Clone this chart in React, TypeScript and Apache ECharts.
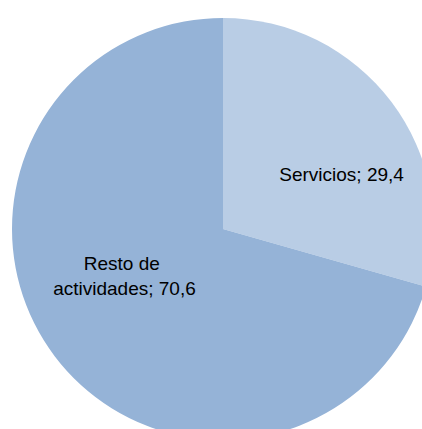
import React, { useEffect, useRef } from "react";
import * as echarts from "echarts";

const categories = ["Servicios", "Resto de actividades"];
const values = [29.4, 70.6];
const colors = ["#B9CDE5", "#95B3D7"];
const labelOffsets: [number, number][] = [[32, 11], [-12, -18]];

export default function App() {
  const ref = useRef<HTMLDivElement>(null);
  useEffect(() => {
    if (!ref.current) return;
    const chart = echarts.init(ref.current, undefined, { renderer: "svg" });
    chart.setOption({
      animation: false,
      backgroundColor: "#ffffff",
      series: [
        {
          type: "pie",
          center: [223, 229],
          radius: [0, 211],
          startAngle: 90,
          clockwise: true,
          avoidLabelOverlap: false,
          labelLine: { show: false },
          itemStyle: { borderWidth: 0 },
          emphasis: { disabled: true },
          label: {
            show: true,
            position: "inside",
            fontFamily: "'Liberation Sans', Arial, sans-serif",
            fontSize: 19,
            color: "#000000",
            lineHeight: 25,
            formatter: (p: any) => `${p.name}; ${String(p.value).replace(".", ",")}`,
          },
          data: categories.map((name, i) => ({
            name,
            value: values[i],
            itemStyle: { color: colors[i] },
            label: i === 1
              ? { offset: labelOffsets[i], width: 155, overflow: "break", align: "center" }
              : { offset: labelOffsets[i] },
          })),
        },
      ],
    });
    return () => chart.dispose();
  }, []);
  return (
    <div
      ref={ref}
      style={{ position: "absolute", left: 0, top: 0, width: 422, height: 429 }}
    />
  );
}
